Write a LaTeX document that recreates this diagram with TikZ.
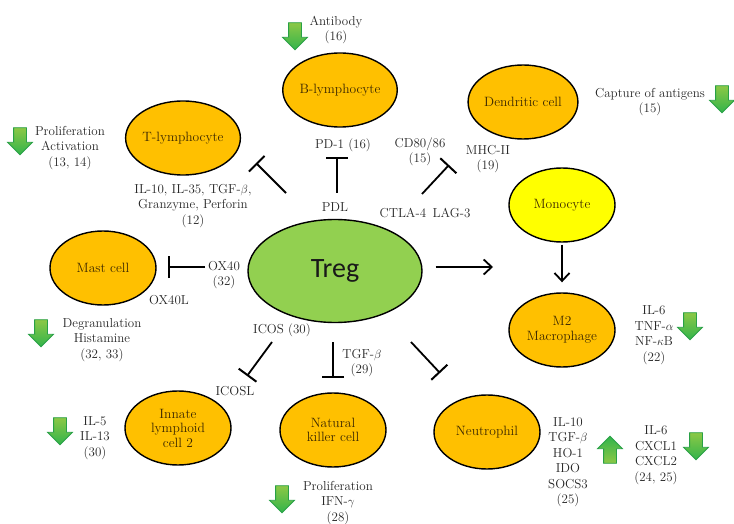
\documentclass[tikz,border=0pt]{standalone}
\usepackage{fontspec}
\usepackage{tikz}
\usepackage{xcolor}
\usepackage{amsmath,amssymb}
\usetikzlibrary{shapes.geometric,shapes.arrows,arrows.meta}
\newfontfamily\tregfont{Carlito}
\definecolor{cellorange}{RGB}{255,192,0}
\definecolor{monoyellow}{RGB}{255,255,0}
\definecolor{treggreen}{RGB}{146,208,80}
\definecolor{celltext}{RGB}{60,40,0}
\definecolor{arrowlight}{RGB}{140,200,70}
\definecolor{arrowdark}{RGB}{50,180,75}
\definecolor{arrowedge}{RGB}{40,160,70}

\begin{document}
\begin{tikzpicture}[x=1pt,y=-1pt]
\tikzstyle{every node}+=[inner sep=0pt]
\tikzstyle{cell}=[ellipse, draw=black, line width=1.4pt, fill=cellorange, minimum width=106pt, minimum height=74pt, align=center, text=celltext, font=\fontsize{13.5}{14.5}\selectfont]
\tikzstyle{lab}=[align=center, text=black!85, font=\fontsize{13}{15.5}\selectfont]
\tikzstyle{inhib}=[line width=1.8pt, -{Bar[width=22pt,line width=2pt]}]
\tikzstyle{act}=[line width=1.8pt, -{Straight Barb[length=8pt,width=15pt,line width=1.8pt]}]
\tikzstyle{downarr}=[single arrow, shape border rotate=270, inner sep=6pt, minimum height=27pt, single arrow head extend=6pt, draw=arrowedge, line width=0.8pt, top color=arrowlight, bottom color=arrowdark]
\tikzstyle{uparr}=[downarr, shape border rotate=90, top color=arrowdark, bottom color=arrowlight]
\useasboundingbox (0,0) rectangle (734,524);
\fill[white] (0,0) rectangle (734,524);
\node[ellipse, draw=black, line width=1.4pt, fill=treggreen, minimum width=174pt, minimum height=103pt, font=\tregfont\fontsize{28}{30}\selectfont, text=black!90] (treg) at (335,271) {Treg};
\node[cell] (blym) at (340,90) {B-lymphocyte};
\node[cell] (tlym) at (183,138) {T-lymphocyte};
\node[cell] (dc) at (523,102) {Dendritic cell};
\node[cell, fill=monoyellow] (mono) at (562,205) {Monocyte};
\node[cell] (mast) at (103,268) {Mast cell};
\node[cell] (mac) at (562,330) {M2\\Macrophage};
\node[cell] (ilc) at (178,428) {Innate\\lymphoid\\cell 2};
\node[cell] (nk) at (333,430) {Natural\\killer cell};
\node[cell] (neu) at (487,432) {Neutrophil};
\node[lab] (antib) at (336,30) {Antibody\\(16)};
\node[downarr] (antibarr) at (295,33) {};
\node[lab] (tprolif) at (70,148) {Proliferation\\Activation\\(13, 14)};
\node[downarr] (tprolifarr) at (20,138) {};
\node[lab] (tcyto) at (193,206) {IL-10, IL-35, TGF-$\beta$,\\Granzyme, Perforin\\(12)};
\node[lab] (pd1) at (343,145) {PD-1 (16)};
\node[lab] (pdl) at (335,207) {PDL};
\node[lab] (cd80) at (420,152) {CD80/86\\(15)};
\node[lab] (mhc) at (488,159) {MHC-II\\(19)};
\node[lab] (ctla) at (425,213) {CTLA-4\enspace LAG-3};
\node[lab] (capt) at (650,102) {Capture of antigens\\(15)};
\node[downarr] (captarr) at (722,96) {};
\node[lab] (ox40) at (224,275) {OX40\\(32)};
\node[lab] (ox40l) at (169,300) {OX40L};
\node[lab] (degr) at (102,340) {Degranulation\\Histamine\\(32, 33)};
\node[downarr] (degrarr) at (41,330) {};
\node[lab] (icos) at (282,330) {ICOS (30)};
\node[lab] (icosl) at (235,391) {ICOSL};
\node[lab] (tgf) at (362,363) {TGF-$\beta$\\(29)};
\node[lab] (il5) at (95,438) {IL-5\\IL-13\\(30)};
\node[downarr] (il5arr) at (60,428) {};
\node[lab] (nkprolif) at (338,503) {Proliferation\\IFN-$\gamma$\\(28)};
\node[downarr] (nkprolifarr) at (282,496) {};
\node[lab] (maclab) at (654,335) {IL-6\\TNF-$\alpha$\\NF-$\kappa$B\\(22)};
\node[downarr] (maclabarr) at (690,323) {};
\node[lab] (neulab) at (568,462) {IL-10\\TGF-$\beta$\\HO-1\\IDO\\SOCS3\\(25)};
\node[uparr] (neulabarr) at (610,453) {};
\node[lab] (cxcl) at (656,455) {IL-6\\CXCL1\\CXCL2\\(24, 25)};
\node[downarr] (cxclarr) at (696,443) {};
\coordinate (tlym0) at (286,193);
\coordinate (tlym1) at (256,163);
\coordinate (blym0) at (337,193);
\coordinate (blym1) at (337,157);
\coordinate (dc0) at (422,194);
\coordinate (dc1) at (449,165);
\coordinate (mast0) at (205,267);
\coordinate (mast1) at (168,267);
\coordinate (ilc0) at (272,342);
\coordinate (ilc1) at (247,376);
\coordinate (nk0) at (333,342);
\coordinate (nk1) at (333,378);
\coordinate (neu0) at (411,342);
\coordinate (neu1) at (440,373);
\coordinate (mono0) at (493,267);
\draw[inhib] (tlym0) -- (tlym1);
\draw[inhib] (blym0) -- (blym1);
\draw[inhib] (dc0) -- (dc1);
\draw[inhib] (mast0) -- (mast1);
\draw[inhib] (ilc0) -- (ilc1);
\draw[inhib] (nk0) -- (nk1);
\draw[inhib] (neu0) -- (neu1);
\draw[act, shorten <=13pt] (treg.east |- mono0) -- (mono0);
\draw[act, shorten <=2pt, shorten >=10pt] (mono) -- (mac);
\end{tikzpicture}
\end{document}
